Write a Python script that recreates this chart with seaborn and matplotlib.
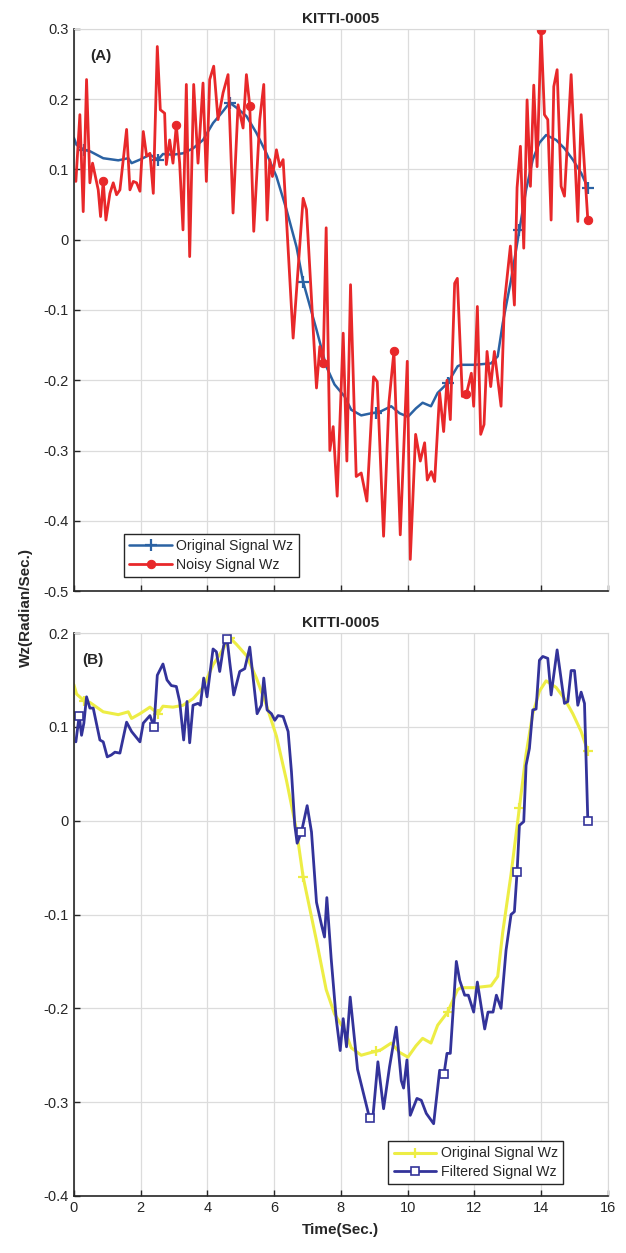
import numpy as np
import matplotlib
matplotlib.use("Agg")
import matplotlib.pyplot as plt
from matplotlib.ticker import FuncFormatter
import seaborn as sns

# original yaw-rate signal (same in both panels)
orig_t = [0.00, 0.08, 0.30, 0.48, 0.88, 1.18, 1.33, 1.63, 1.73, 1.98,
          2.28, 2.52, 2.67, 2.97, 3.27, 3.57, 3.87, 4.17, 4.42, 4.67,
          4.87, 5.17, 5.47, 5.77, 6.07, 6.37, 6.67, 6.87, 7.27, 7.56,
          7.81, 8.11, 8.31, 8.61, 8.91, 9.05, 9.21, 9.51, 9.76, 10.01,
          10.25, 10.45, 10.70, 10.90, 11.20, 11.50, 11.60, 12.00, 12.50, 12.70,
          12.85, 13.10, 13.35, 13.55, 13.75, 13.95, 14.15, 14.45, 14.70, 14.95,
          15.20, 15.40]
orig_y = [0.145, 0.135, 0.128, 0.126, 0.116, 0.114, 0.113, 0.116, 0.109, 0.114,
          0.121, 0.114, 0.122, 0.121, 0.123, 0.130, 0.142, 0.166, 0.180, 0.195,
          0.188, 0.176, 0.152, 0.123, 0.090, 0.043, -0.010, -0.060, -0.128, -0.180,
          -0.206, -0.223, -0.242, -0.250, -0.247, -0.246, -0.244, -0.237, -0.247, -0.252,
          -0.240, -0.232, -0.237, -0.218, -0.204, -0.180, -0.178, -0.178, -0.176, -0.166,
          -0.119, -0.057, 0.014, 0.071, 0.114, 0.138, 0.149, 0.142, 0.130, 0.114,
          0.095, 0.074]
orig_mark_t = [0.30, 2.52, 4.67, 6.87, 9.05, 11.20, 13.35, 15.40]

# noisy signal (panel A)
noisy_t = [0.06, 0.18, 0.28, 0.38, 0.48, 0.56, 0.73, 0.80, 0.88, 0.96,
           1.08, 1.18, 1.28, 1.38, 1.58, 1.68, 1.78, 1.88, 1.98, 2.08,
           2.18, 2.28, 2.38, 2.50, 2.59, 2.72, 2.77, 2.87, 2.97, 3.07,
           3.17, 3.27, 3.37, 3.47, 3.59, 3.72, 3.87, 3.97, 4.07, 4.19,
           4.32, 4.47, 4.62, 4.77, 4.92, 5.07, 5.17, 5.27, 5.39, 5.57,
           5.69, 5.79, 5.87, 5.95, 6.07, 6.17, 6.27, 6.57, 6.87, 6.97,
           7.27, 7.37, 7.47, 7.56, 7.67, 7.77, 7.89, 8.07, 8.18, 8.29,
           8.46, 8.61, 8.78, 8.98, 9.09, 9.28, 9.44, 9.59, 9.78, 9.99,
           10.08, 10.24, 10.38, 10.51, 10.59, 10.71, 10.81, 10.96, 11.08, 11.18,
           11.28, 11.41, 11.49, 11.64, 11.76, 11.91, 11.98, 12.09, 12.19, 12.29,
           12.38, 12.49, 12.60, 12.80, 12.90, 13.08, 13.20, 13.28, 13.38, 13.48,
           13.58, 13.68, 13.78, 13.88, 14.00, 14.10, 14.20, 14.30, 14.38, 14.48,
           14.60, 14.70, 14.90, 15.10, 15.20, 15.40]
noisy_y = [0.083, 0.178, 0.040, 0.228, 0.081, 0.109, 0.071, 0.033, 0.084, 0.028,
           0.066, 0.081, 0.064, 0.071, 0.157, 0.071, 0.083, 0.081, 0.069, 0.154,
           0.119, 0.123, 0.066, 0.275, 0.185, 0.180, 0.107, 0.142, 0.109, 0.163,
           0.109, 0.014, 0.221, -0.024, 0.221, 0.109, 0.223, 0.083, 0.228, 0.247,
           0.171, 0.209, 0.235, 0.038, 0.192, 0.159, 0.235, 0.191, 0.012, 0.171,
           0.221, 0.028, 0.114, 0.090, 0.128, 0.104, 0.114, -0.140, 0.059, 0.043,
           -0.211, -0.152, -0.176, 0.017, -0.300, -0.266, -0.365, -0.133, -0.315, -0.064,
           -0.337, -0.332, -0.372, -0.195, -0.202, -0.422, -0.232, -0.159, -0.420, -0.173,
           -0.455, -0.277, -0.315, -0.289, -0.342, -0.330, -0.344, -0.218, -0.273, -0.200,
           -0.256, -0.062, -0.055, -0.223, -0.220, -0.190, -0.237, -0.095, -0.277, -0.263,
           -0.159, -0.209, -0.159, -0.237, -0.090, -0.009, -0.093, 0.074, 0.133, -0.012,
           0.199, 0.076, 0.220, 0.104, 0.299, 0.178, 0.171, 0.028, 0.218, 0.242,
           0.076, 0.062, 0.235, 0.026, 0.178, 0.028]
noisy_mark_t = [0.88, 3.07, 5.27, 7.47, 9.59, 11.76, 14.00, 15.40]

# filtered signal (panel B)
filt_t = [0.06, 0.16, 0.23, 0.30, 0.38, 0.48, 0.58, 0.78, 0.88, 1.00,
          1.12, 1.23, 1.38, 1.58, 1.73, 1.98, 2.08, 2.28, 2.40, 2.50,
          2.67, 2.79, 2.92, 3.07, 3.17, 3.29, 3.39, 3.47, 3.57, 3.72,
          3.79, 3.89, 3.99, 4.17, 4.27, 4.37, 4.49, 4.59, 4.67, 4.79,
          4.97, 5.12, 5.27, 5.49, 5.62, 5.69, 5.79, 5.92, 6.02, 6.12,
          6.27, 6.42, 6.52, 6.62, 6.69, 6.82, 6.99, 7.12, 7.27, 7.42,
          7.51, 7.58, 7.71, 7.86, 7.98, 8.07, 8.17, 8.28, 8.50, 8.86,
          8.96, 9.11, 9.28, 9.46, 9.66, 9.81, 9.88, 9.98, 10.08, 10.28,
          10.41, 10.56, 10.78, 10.96, 11.09, 11.18, 11.28, 11.46, 11.56, 11.71,
          11.82, 11.98, 12.09, 12.31, 12.41, 12.56, 12.66, 12.80, 12.95, 13.10,
          13.20, 13.28, 13.35, 13.48, 13.55, 13.65, 13.75, 13.85, 13.95, 14.05,
          14.20, 14.30, 14.48, 14.70, 14.80, 14.90, 15.00, 15.10, 15.20, 15.30,
          15.40]
filt_y = [0.084, 0.112, 0.091, 0.104, 0.132, 0.120, 0.120, 0.086, 0.084, 0.068,
          0.070, 0.073, 0.072, 0.105, 0.095, 0.084, 0.104, 0.112, 0.100, 0.155,
          0.167, 0.150, 0.144, 0.143, 0.127, 0.086, 0.127, 0.083, 0.123, 0.125,
          0.123, 0.152, 0.132, 0.183, 0.180, 0.159, 0.187, 0.194, 0.169, 0.134,
          0.159, 0.162, 0.185, 0.114, 0.123, 0.152, 0.118, 0.114, 0.107, 0.112,
          0.111, 0.095, 0.052, -0.005, -0.024, -0.012, 0.016, -0.012, -0.087, -0.111,
          -0.124, -0.082, -0.147, -0.211, -0.245, -0.211, -0.241, -0.188, -0.265, -0.317,
          -0.316, -0.257, -0.307, -0.262, -0.220, -0.277, -0.285, -0.255, -0.314, -0.296,
          -0.298, -0.312, -0.323, -0.266, -0.270, -0.248, -0.248, -0.150, -0.170, -0.186,
          -0.186, -0.204, -0.172, -0.222, -0.204, -0.204, -0.186, -0.200, -0.138, -0.100,
          -0.097, -0.055, -0.005, -0.001, 0.059, 0.077, 0.118, 0.119, 0.171, 0.175,
          0.173, 0.134, 0.182, 0.125, 0.127, 0.160, 0.160, 0.123, 0.137, 0.125,
          0.000]
filt_mark_t = [0.16, 2.40, 4.59, 6.82, 8.86, 11.09, 13.28, 15.40]

sns.set_style("whitegrid", {"grid.color": "#dcdcdc", "axes.edgecolor": "#d9d9d9"})
plt.rcParams['font.family'] = ['Liberation Sans', 'DejaVu Sans']

fig = plt.figure(figsize=(6.26, 12.53), dpi=100)
ax1 = fig.add_axes([0.118, 0.5283, 0.853, 0.4486])
ax2 = fig.add_axes([0.118, 0.0455, 0.853, 0.4493])


def idx(ts, marks):
    return [ts.index(m) for m in marks]


sns.lineplot(x=orig_t, y=orig_y, ax=ax1, sort=False, estimator=None,
             color="#2b62a3", lw=1.8, marker="+", ms=8, mew=1.6, mec="#2b62a3",
             markevery=idx(orig_t, orig_mark_t), label="Original Signal Wz")
sns.lineplot(x=noisy_t, y=noisy_y, ax=ax1, sort=False, estimator=None,
             color="#e8282a", lw=2.0, marker="o", ms=6, mfc="#e8282a", mec="#e8282a",
             markevery=idx(noisy_t, noisy_mark_t), label="Noisy Signal Wz")

sns.lineplot(x=orig_t, y=orig_y, ax=ax2, sort=False, estimator=None,
             color="#eded45", lw=2.2, marker="+", ms=7, mew=1.6, mec="#eded45",
             markevery=idx(orig_t, orig_mark_t), label="Original Signal Wz")
sns.lineplot(x=filt_t, y=filt_y, ax=ax2, sort=False, estimator=None,
             color="#33339a", lw=2.0, marker="s", ms=5.5, mfc="white", mec="#33339a", mew=1.2,
             markevery=idx(filt_t, filt_mark_t), label="Filtered Signal Wz")

fmt = FuncFormatter(lambda v, p: "0" if abs(v) < 1e-9 else f"{v:.1f}")
for ax, lo, hi in [(ax1, -0.5, 0.3), (ax2, -0.4, 0.2)]:
    ax.set_xlim(0, 16)
    ax.set_ylim(lo, hi)
    ax.set_xticks(np.arange(0, 17, 2))
    ax.set_yticks(np.arange(lo, hi + 0.01, 0.1))
    ax.yaxis.set_major_formatter(fmt)
    ax.tick_params(direction="in", length=4, width=1, labelsize=10.5,
                   colors="#262626", bottom=True, left=True)
    for s in ["left", "bottom"]:
        ax.spines[s].set_color("#262626")
        ax.spines[s].set_linewidth(1.2)
    for s in ["top", "right"]:
        ax.spines[s].set_color("#d9d9d9")
    ax.grid(True, color="#dcdcdc", lw=0.9)
    ax.set_title("KITTI-0005", fontsize=11, fontweight="bold", pad=4)
    ax.set_ylabel("")

ax1.set_xticklabels([])
ax1.set_xlabel("")
ax2.set_xlabel("Time(Sec.)", fontsize=11, fontweight="bold", labelpad=6)

ax1.text(0.03, 0.965, "(A)", transform=ax1.transAxes, fontsize=11,
         fontweight="bold", va="top", ha="left", color="#262626")
ax2.text(0.015, 0.965, "(B)", transform=ax2.transAxes, fontsize=11,
         fontweight="bold", va="top", ha="left", color="#262626")

leg1 = ax1.legend(loc="lower left", bbox_to_anchor=(0.08, 0.012), fontsize=10.2,
                  frameon=True, fancybox=False, edgecolor="#262626",
                  handlelength=3.0, borderpad=0.4, labelspacing=0.3, handletextpad=0.3)
leg2 = ax2.legend(loc="lower right", bbox_to_anchor=(0.93, 0.008), fontsize=10.2,
                  frameon=True, fancybox=False, edgecolor="#262626",
                  handlelength=3.0, borderpad=0.4, labelspacing=0.3, handletextpad=0.3)
for leg in (leg1, leg2):
    leg.get_frame().set_linewidth(1.0)
    leg.get_frame().set_alpha(1)

fig.text(0.042, 0.515, "Wz(Radian/Sec.)", rotation=90, fontsize=11,
         fontweight="bold", ha="center", va="center", color="#262626")

fig.savefig("out.png", dpi=100)
